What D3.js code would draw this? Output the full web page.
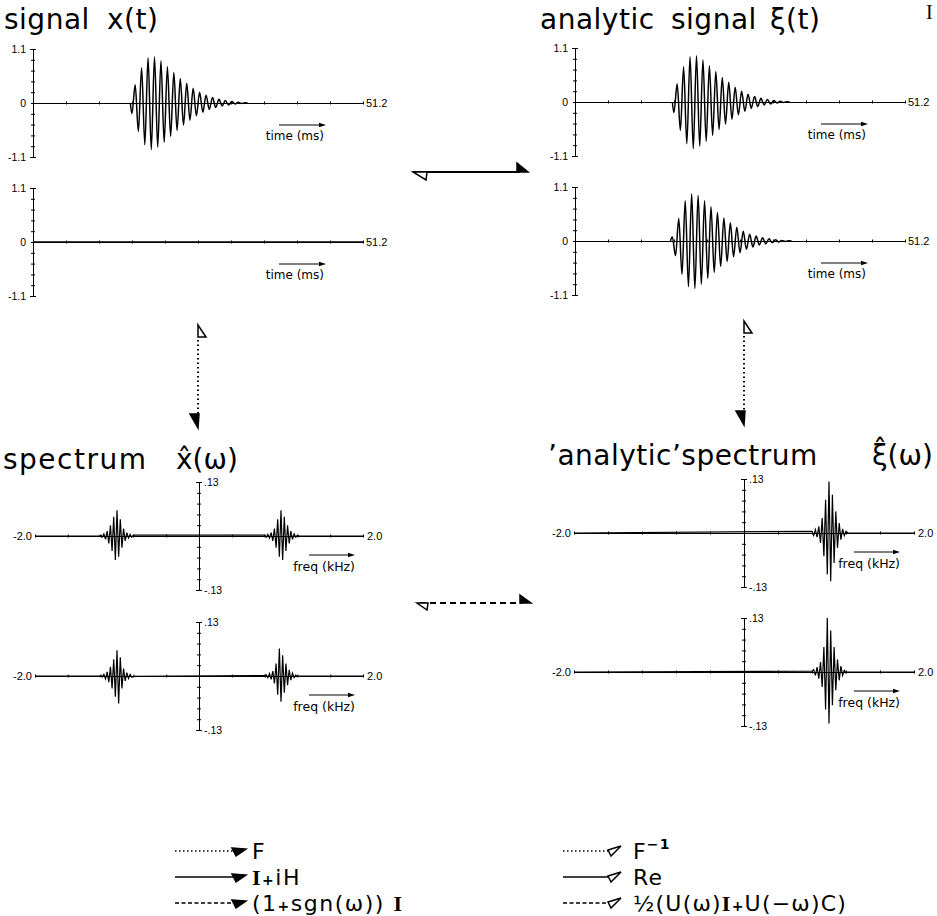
<!DOCTYPE html>
<html>
<head>
<meta charset="utf-8">
<script src="https://cdn.jsdelivr.net/npm/d3@7"></script>
<style>
body { margin: 0; background: #fff; }
svg { display: block; }
</style>
</head>
<body>
<div class="fig"></div>
<script>
// ---- axis ticks and labels
let timeTicks = [0, 5.12, 10.24, 15.36, 20.48, 25.6, 30.72, 35.84, 40.96, 46.08, 51.2];
let ampTicks = [-1.1, -0.88, -0.66, -0.44, -0.22, 0, 0.22, 0.44, 0.66, 0.88, 1.1];
let ampLabels = ["-1.1", "", "", "", "", "0", "", "", "", "", "1.1"];
let freqTicks = [-2, -1.6, -1.2, -0.8, -0.4, 0, 0.4, 0.8, 1.2, 1.6, 2];
let specTicks = [-0.13, -0.104, -0.078, -0.052, -0.026, 0, 0.026, 0.052, 0.078, 0.104, 0.13];
let specLabels = ["-.13", "", "", "", "", "", "", "", "", "", ".13"];

// ---- x(t): extrema (ms, amplitude)
let reTime = [15.1, 15.35, 15.85, 16.35, 16.85, 17.35, 17.85, 18.35, 18.85, 19.35, 19.85,
  20.35, 20.85, 21.35, 21.85, 22.35, 22.85, 23.35, 23.85, 24.35, 24.85, 25.35, 25.85,
  26.35, 26.85, 27.35, 27.85, 28.35, 28.85, 29.35, 29.85, 30.35, 30.85, 31.35, 31.85,
  32.35, 32.85, 33.3];
let reVal = [0, -0.22, 0.37, -0.58, 0.72, -0.85, 0.92, -0.95, 0.94, -0.90, 0.86,
  -0.80, 0.74, -0.68, 0.62, -0.56, 0.50, -0.45, 0.40, -0.35, 0.30, -0.26, 0.22,
  -0.19, 0.16, -0.13, 0.11, -0.09, 0.075, -0.06, 0.05, -0.04, 0.03, -0.02, 0.015,
  -0.01, 0.005, 0];

// imaginary part of the analytic signal
let imTime = [14.8, 15.1, 15.6, 16.1, 16.6, 17.1, 17.6, 18.1, 18.6, 19.1, 19.6, 20.1,
  20.6, 21.1, 21.6, 22.1, 22.6, 23.1, 23.6, 24.1, 24.6, 25.1, 25.6, 26.1, 26.6, 27.1,
  27.6, 28.1, 28.6, 29.1, 29.6, 30.1, 30.6, 31.1, 31.6, 32.1, 32.6, 33.1, 33.6];
let imVal = [0, 0.08, -0.30, 0.46, -0.68, 0.82, -0.93, 0.96, -0.97, 0.93, -0.88, 0.82,
  -0.76, 0.70, -0.64, 0.58, -0.52, 0.47, -0.42, 0.37, -0.32, 0.28, -0.24, 0.20, -0.17,
  0.14, -0.12, 0.10, -0.08, 0.065, -0.055, 0.045, -0.035, 0.025, -0.02, 0.012, -0.008,
  0.004, 0];

// imaginary part of x(t) is zero
let zeroTime = [0, 51.2];
let zeroVal = [0, 0];

// ---- spectra (kHz, value)
let fNeg = [-1.22, -1.20, -1.18, -1.16, -1.14, -1.12, -1.10, -1.08, -1.06, -1.04, -1.02,
  -1.00, -0.98, -0.96, -0.94, -0.92, -0.90, -0.88, -0.86, -0.84, -0.82, -0.80];
let fPos = [0.80, 0.82, 0.84, 0.86, 0.88, 0.90, 0.92, 0.94, 0.96, 0.98, 1.00,
  1.02, 1.04, 1.06, 1.08, 1.10, 1.12, 1.14, 1.16, 1.18, 1.20, 1.22];

let specReNeg = [0, 0.002, -0.003, 0.005, -0.008, 0.012, -0.018, 0.026, -0.036, 0.046, -0.058,
  0.062, -0.050, 0.040, -0.028, 0.018, -0.012, 0.008, -0.005, 0.004, -0.003, 0.002];
let specRePos = [0.002, -0.003, 0.004, -0.005, 0.008, -0.012, 0.018, -0.028, 0.040, -0.050, 0.062,
  -0.058, 0.046, -0.036, 0.026, -0.018, 0.012, -0.008, 0.005, -0.003, 0.002, 0];
let specImNeg = [0, 0.001, -0.002, 0.004, -0.007, 0.010, -0.015, 0.022, -0.030, 0.040, -0.050,
  0.062, -0.066, 0.045, -0.030, 0.018, -0.012, 0.008, -0.006, 0.004, -0.003, -0.001];
let specImPos = [0.001, 0.003, -0.004, 0.006, -0.008, 0.012, -0.018, 0.030, -0.045, 0.066, -0.062,
  0.050, -0.040, 0.030, -0.022, 0.015, -0.010, 0.007, -0.004, 0.002, -0.001, 0];

let anaRe = [0.004, -0.006, 0.008, -0.010, 0.016, -0.024, 0.036, -0.056, 0.080, -0.100, 0.124,
  -0.116, 0.092, -0.072, 0.052, -0.036, 0.024, -0.016, 0.010, -0.006, 0.004, 0];
let anaIm = [0.002, 0.006, -0.008, 0.012, -0.016, 0.024, -0.036, 0.060, -0.090, 0.130, -0.124,
  0.100, -0.080, 0.060, -0.044, 0.030, -0.020, 0.014, -0.008, 0.004, -0.002, 0];

// ---- legend
let legendLeft = ["F", "I+iH", "(1+sgn(\u03C9)) I"];
let legendRight = ["F", "Re", "\u00BD(U(\u03C9)I+U(\u2212\u03C9)C)"];

let font = "DejaVu Sans";
let small = "Liberation Sans";

let svg = d3.select(".fig").append("svg")
    .attr("width", 937)
    .attr("height", 916)
    .style("background", "#fff");

function zip(a, b) {
    return a.map(function (d, i) { return [d, b[i]]; });
}

function smallArrow(x1, x2, y) {
    svg.append("line")
        .attr("x1", x1).attr("x2", x2 - 4).attr("y1", y).attr("y2", y)
        .attr("stroke", "black").attr("stroke-width", 1);
    svg.append("path")
        .attr("d", "M" + x2 + "," + y + "L" + (x2 - 7) + "," + (y - 2.2) + "L" + (x2 - 7) + "," + (y + 2.2) + "Z")
        .attr("fill", "black");
}

function crossTicks(sel, attr, size) {
    sel.selectAll(".tick line")
        .attr(attr + "1", size).attr(attr + "2", -size)
        .attr("stroke", "black").attr("stroke-width", 1);
    sel.select(".domain").attr("stroke", "black").attr("stroke-width", 1);
}

function timePanel(x0, y0, times, vals) {
    let x = d3.scaleLinear().domain([0, 51.2]).range([x0, x0 + 330]);
    let y = d3.scaleLinear().domain([-1.1, 1.1]).range([y0 + 54, y0 - 54]);

    let xa = svg.append("g").attr("transform", "translate(0," + y0 + ")")
        .call(d3.axisBottom(x).tickValues(timeTicks).tickSize(2).tickSizeOuter(0).tickFormat(""));
    crossTicks(xa, "y", 1.5);

    let ya = svg.append("g").attr("transform", "translate(" + x0 + ",0)")
        .call(d3.axisLeft(y).tickValues(ampTicks).tickSize(2).tickSizeOuter(0).tickPadding(5)
            .tickFormat(function (d, i) { return ampLabels[i]; }));
    crossTicks(ya, "x", 2);
    ya.selectAll(".tick line").filter(function (d) { return Math.abs(d) === 1.1; })
        .attr("x1", 3).attr("x2", -3);
    ya.selectAll(".tick text").attr("font-family", small).attr("font-size", 10.5).attr("fill", "black");

    svg.append("text").attr("x", x0 + 333).attr("y", y0 + 4)
        .attr("font-family", small).attr("font-size", 11).text("51.2");

    smallArrow(x0 + 246, x0 + 293, y0 + 22);
    svg.append("text").attr("x", x0 + 291).attr("y", y0 + 37).attr("text-anchor", "end")
        .attr("font-family", font).attr("font-size", 12).text("time (ms)");

    let line = d3.line()
        .x(function (d) { return x(d[0]); })
        .y(function (d) { return y(d[1]); })
        .curve(d3.curveMonotoneX);
    svg.append("path").datum(zip(times, vals))
        .attr("d", line)
        .attr("fill", "none").attr("stroke", "black").attr("stroke-width", 1.5);
}

function specPanel(cx, y0, half, freqs, vals) {
    let x = d3.scaleLinear().domain([-2, 2]).range([cx - half, cx + half]);
    let y = d3.scaleLinear().domain([-0.13, 0.13]).range([y0 + 54, y0 - 54]);

    let xa = svg.append("g").attr("transform", "translate(0," + y0 + ")")
        .call(d3.axisBottom(x).tickValues(freqTicks).tickSize(2).tickSizeOuter(0).tickFormat(""));
    crossTicks(xa, "y", 1.5);

    let ya = svg.append("g").attr("transform", "translate(" + cx + ",0)")
        .call(d3.axisRight(y).tickValues(specTicks).tickSize(2).tickSizeOuter(0).tickPadding(3)
            .tickFormat(function (d, i) { return specLabels[i]; }));
    crossTicks(ya, "x", 2);
    ya.selectAll(".tick line").filter(function (d) { return Math.abs(d) === 0.13; })
        .attr("x1", 3).attr("x2", -3);
    ya.selectAll(".tick text").attr("font-family", small).attr("font-size", 10.5).attr("fill", "black");

    svg.append("text").attr("x", cx - half - 3).attr("y", y0 + 4).attr("text-anchor", "end")
        .attr("font-family", small).attr("font-size", 11).text("-2.0");
    svg.append("text").attr("x", cx + half + 4).attr("y", y0 + 4)
        .attr("font-family", small).attr("font-size", 11).text("2.0");

    smallArrow(cx + 110, cx + 156, y0 + 19);
    svg.append("text").attr("x", cx + 156).attr("y", y0 + 35).attr("text-anchor", "end")
        .attr("font-family", font).attr("font-size", 12.5).text("freq (kHz)");

    let pts = [[-2, 0]].concat(zip(freqs, vals), [[2, 0]]);
    let line = d3.line()
        .x(function (d) { return x(d[0]); })
        .y(function (d) { return y(d[1]); });
    svg.append("path").datum(pts)
        .attr("d", line)
        .attr("fill", "none").attr("stroke", "black").attr("stroke-width", 1.2);
}

// ---- panels
timePanel(33, 103, reTime, reVal);
timePanel(33, 242, zeroTime, zeroVal);
timePanel(575, 102, reTime, reVal);
timePanel(575, 241, imTime, imVal);

specPanel(199, 536, 164, fNeg.concat(fPos), specReNeg.concat(specRePos));
specPanel(199, 676, 164, fNeg.concat(fPos), specImNeg.concat(specImPos));
specPanel(744, 533, 170, fPos, anaRe);
specPanel(744, 672, 170, fPos, anaIm);

// ---- titles
function title(x, y, s, ls) {
    svg.append("text").attr("x", x).attr("y", y)
        .attr("font-family", font).attr("font-size", 28)
        .attr("letter-spacing", ls).text(s);
}
title(4, 29, "signal", 0.5);
title(107, 29, "x(t)", 0.5);
title(540, 29, "analytic", 0.5);
title(671, 29, "signal", 0.5);
title(770, 29, "\u03BE(t)", 0.5);
title(3, 469, "spectrum", 1.5);
title(176, 469, "x\u0302(\u03C9)", 0);
title(548, 465, "\u2019analytic\u2019spectrum", 0.5);
title(872, 465, "\u03BE\u0302(\u03C9)", 0);

svg.append("text").attr("x", 926).attr("y", 19)
    .attr("font-family", "Liberation Serif").attr("font-size", 20).text("I");

// ---- transform arrows
function head(pts, filled) {
    svg.append("path")
        .attr("d", "M" + pts.map(function (p) { return p.join(","); }).join("L") + "Z")
        .attr("fill", filled ? "black" : "white")
        .attr("stroke", "black").attr("stroke-width", 1.5).attr("stroke-linejoin", "miter");
}
function bar(x1, y1, x2, y2, dash, w) {
    svg.append("line")
        .attr("x1", x1).attr("y1", y1).attr("x2", x2).attr("y2", y2)
        .attr("stroke", "black").attr("stroke-width", w)
        .attr("stroke-dasharray", dash);
}

// solid: x(t) <-> xi(t)
bar(413, 172, 520, 172, null, 2);
head([[517, 163], [528, 172], [517, 172]], true);
head([[413, 172], [427, 172], [426, 180]], false);

// dashed: spectra
bar(420, 603, 522, 603, "6,4", 2);
head([[520, 595], [531, 603], [520, 603]], true);
head([[417, 603], [428, 603], [427, 610]], false);

// dotted: time <-> frequency
bar(198, 340, 198, 414, "1.5,3", 2);
head([[198, 325], [198, 337], [206, 337]], false);
head([[190, 414], [199, 414], [198, 428]], true);
bar(744, 336, 744, 410, "1.5,3", 2);
head([[744, 321], [744, 333], [752, 333]], false);
head([[736, 411], [745, 411], [744, 425]], true);

// ---- legend
// serif I and a small + as in the original lettering
function lettering(t, s) {
    s.split("").forEach(function (ch) {
        let sp = t.append("tspan").text(ch);
        if (ch === "I") sp.attr("font-family", "Liberation Serif").attr("font-weight", "bold");
        if (ch === "+") sp.attr("font-size", 14).attr("font-weight", "bold");
    });
}

let rowY = [851, 877, 903];
let dashes = ["1.5,2.5", null, "4,2.5"];
rowY.forEach(function (y, i) {
    bar(175, y, 236, y, dashes[i], 1.5);
    head([[232, y - 3], [246, y - 2], [236, y + 5]], true);
    let tl = svg.append("text").attr("x", 252).attr("y", y + 8)
        .attr("font-family", font).attr("font-size", 22).attr("letter-spacing", 1.5);
    lettering(tl, legendLeft[i]);

    bar(563, y, 614, y, dashes[i], 1.5);
    head([[608, y - 1], [621, y - 5], [611, y + 5]], false);
    let tr = svg.append("text").attr("x", 633).attr("y", y + 8)
        .attr("font-family", font).attr("font-size", 22).attr("letter-spacing", 1.2);
    lettering(tr, legendRight[i]);
    if (i === 0) {
        tr.append("tspan").attr("dy", -10).attr("font-size", 14).attr("font-weight", "bold").text("\u22121");
    }
});
</script>
</body>
</html>
